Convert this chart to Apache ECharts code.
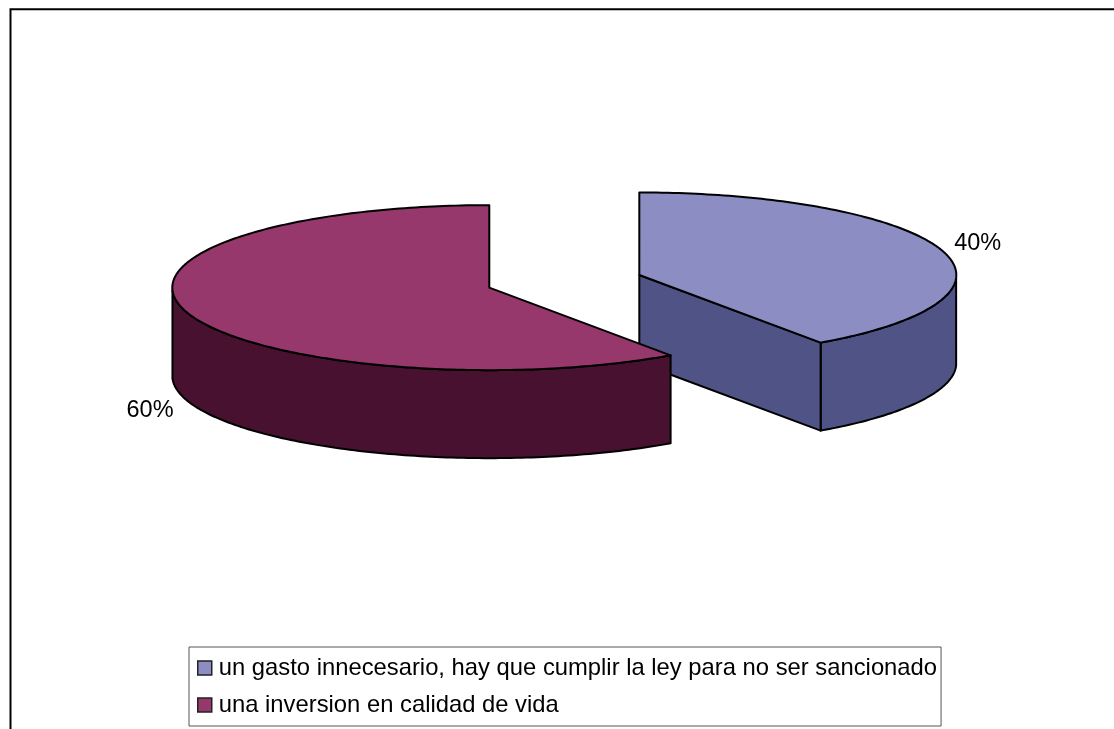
<!DOCTYPE html>
<html>
<head>
<meta charset="utf-8">
<style>html,body{margin:0;padding:0;background:#fff}#c{width:1114px;height:729px}</style>
<script src="https://cdn.jsdelivr.net/npm/echarts@6/dist/echarts.min.js"></script>
</head>
<body>
<div id="c"></div>
<script>
const categories = ['un gasto innecesario, hay que cumplir la ley para no ser sancionado', 'una inversion en calidad de vida'];
const values = [40, 60];
const topColors = ['#8B8DC3', '#96386C'];
const sideColors = ['#505386', '#47112F'];

const total = values.reduce((a, b) => a + b, 0);
const FONT = '"Liberation Sans", Arial, sans-serif';
// warp: the slight perspective of the 3D projection, it leaves the 0/180/360 degree directions alone
const pie = { cx: 564.3, cy: 281.3, rx: 317, ry: 82.5, depth: 88, explode: 0.2488, warp: 0.033 };
const chart = echarts.init(document.getElementById('c'), null, { renderer: 'canvas' });

function arcPoints(c, a0, a1) {
  const n = Math.max(2, Math.ceil(Math.abs(a1 - a0) / (Math.PI / 180)));
  const pts = [];
  for (let i = 0; i <= n; i++) {
    const a = a0 + (a1 - a0) * i / n;
    const t = a + pie.warp * Math.sin(a);
    pts.push([c.x + pie.rx * Math.sin(t), c.y - pie.ry * Math.cos(t)]);
  }
  return pts;
}
const drop = (pts) => pts.map(p => [p[0], p[1] + pie.depth]);
const face = (points, fill) => ({
  type: 'polygon',
  shape: { points },
  style: { fill, stroke: '#000', lineWidth: 2, lineJoin: 'round' }
});

function sliceRenderer(index) {
  return function (params, api) {
    const v = api.value(0);
    const before = values.slice(0, index).reduce((a, b) => a + b, 0);
    const a0 = before / total * 2 * Math.PI;
    const a1 = a0 + v / total * 2 * Math.PI;
    const mid = (a0 + a1) / 2;
    const c = {
      x: pie.cx + pie.explode * pie.rx * Math.sin(mid),
      y: pie.cy - pie.explode * pie.ry * Math.cos(mid)
    };
    const children = [];
    const w0 = Math.max(a0, Math.PI / 2), w1 = Math.min(a1, 3 * Math.PI / 2);
    if (w1 > w0) {
      const arc = arcPoints(c, w0, w1);
      children.push(face(arc.concat(drop(arc).reverse()), sideColors[index]));
    }
    const apex = [c.x, c.y];
    if (Math.sin(a1) > 1e-6) {
      const e = arcPoints(c, a1, a1)[0];
      children.push(face([apex, e, [e[0], e[1] + pie.depth], [apex[0], apex[1] + pie.depth]], sideColors[index]));
    }
    if (Math.sin(a0) < -1e-6) {
      const e = arcPoints(c, a0, a0)[0];
      children.push(face([apex, e, [e[0], e[1] + pie.depth], [apex[0], apex[1] + pie.depth]], sideColors[index]));
    }
    children.push(face([apex].concat(arcPoints(c, a0, a1)), topColors[index]));

    const lp = arcPoints(c, mid, mid)[0];
    const front = Math.cos(mid) < 0;
    children.push({
      type: 'text',
      style: {
        text: Math.round(v / total * 100) + '%',
        x: lp[0] + (Math.sin(mid) > 0 ? 34 : -41),
        y: lp[1] + (front ? pie.depth + 7 : -8),
        align: 'center',
        verticalAlign: 'middle',
        fontFamily: FONT,
        fontSize: 23.5,
        fill: '#000'
      }
    });
    return { type: 'group', children };
  };
}

chart.setOption({
  animation: false,
  backgroundColor: '#fff',
  legend: {
    orient: 'vertical',
    left: 189,
    top: 647,
    padding: [9, 4, 9, 8],
    itemGap: 13,
    itemWidth: 14,
    itemHeight: 14,
    icon: 'rect',
    borderColor: '#555',
    borderWidth: 1,
    itemStyle: { borderColor: '#222', borderWidth: 1.5 },
    textStyle: { fontFamily: FONT, fontSize: 23.8, color: '#000', padding: [0, 0, 0, 2] },
    data: categories
  },
  graphic: [{
    type: 'polyline',
    silent: true,
    shape: { points: [[10.5, 729], [10.5, 9.3], [1114, 9.3]] },
    style: { stroke: '#000', lineWidth: 2, fill: 'none' }
  }],
  series: categories.map((name, i) => ({
    type: 'custom',
    name,
    coordinateSystem: 'none',
    itemStyle: { color: topColors[i] },
    renderItem: sliceRenderer(i),
    data: [[values[i]]],
    z: 2 + i
  }))
});
</script>
</body>
</html>
